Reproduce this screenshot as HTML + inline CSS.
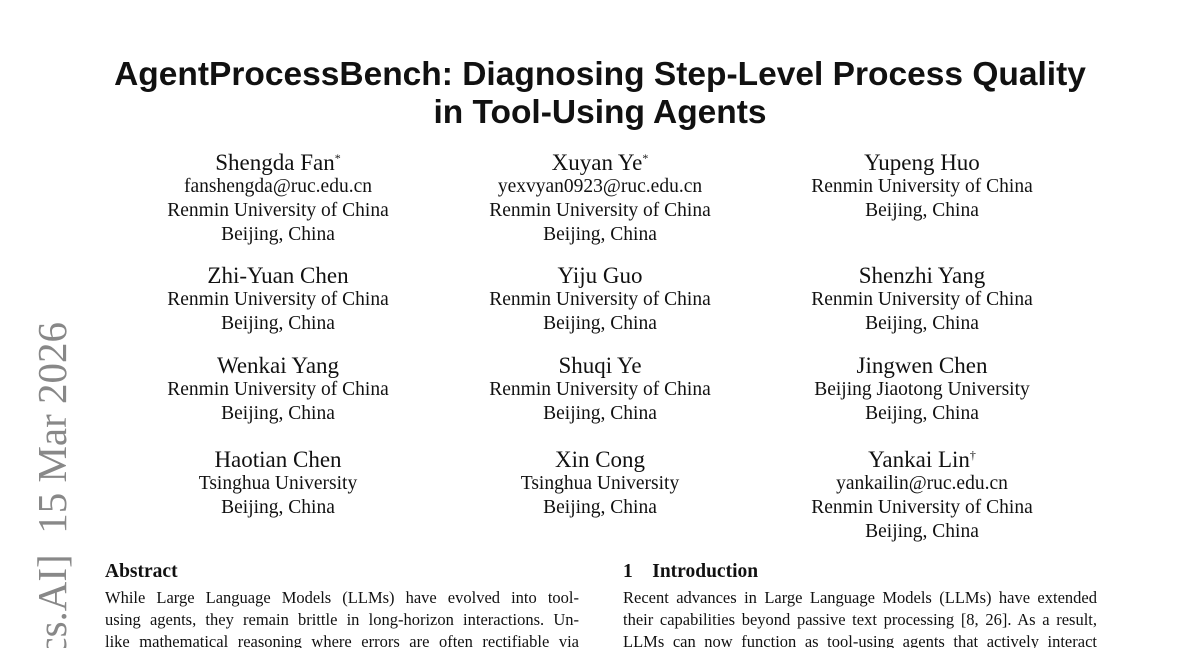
<!DOCTYPE html>
<html><head><meta charset="utf-8"><style>
html,body{margin:0;width:1200px;height:648px;overflow:hidden}
body{background:#fff;position:relative;font-family:"Liberation Serif",serif;color:#111}
.t{position:absolute;left:0;width:1200px;text-align:center;font-family:"Liberation Sans",sans-serif;font-weight:bold;font-size:33.5px;line-height:38px}
.c{position:absolute;width:340px;text-align:center}
.c div{height:24px;line-height:24px;font-size:19.5px;white-space:nowrap}
.c div.n{font-size:23px}
sup{font-size:12px;vertical-align:top;line-height:14px}
.clip{position:absolute;left:0;top:0;width:100px;height:648px;overflow:hidden}
.side{position:absolute;top:0;transform-origin:0 0;transform:rotate(-90deg);font-size:41px;color:#888;white-space:nowrap;line-height:40px}
.h{position:absolute;font-weight:bold;font-size:19.5px;line-height:22px}
.p{position:absolute;font-size:16.5px;line-height:22px;text-align:justify;text-align-last:justify;white-space:nowrap}
</style></head><body>
<div class="t" style="top:56px">AgentProcessBench: Diagnosing Step-Level Process Quality</div>
<div class="t" style="top:94px">in Tool-Using Agents</div>

<div class="c" style="left:108px;top:151px"><div class="n">Shengda Fan<sup>*</sup></div><div>fanshengda@ruc.edu.cn</div><div>Renmin University of China</div><div>Beijing, China</div></div>
<div class="c" style="left:430px;top:151px"><div class="n">Xuyan Ye<sup>*</sup></div><div>yexvyan0923@ruc.edu.cn</div><div>Renmin University of China</div><div>Beijing, China</div></div>
<div class="c" style="left:752px;top:151px"><div class="n">Yupeng Huo</div><div>Renmin University of China</div><div>Beijing, China</div></div>

<div class="c" style="left:108px;top:264px"><div class="n">Zhi-Yuan Chen</div><div>Renmin University of China</div><div>Beijing, China</div></div>
<div class="c" style="left:430px;top:264px"><div class="n">Yiju Guo</div><div>Renmin University of China</div><div>Beijing, China</div></div>
<div class="c" style="left:752px;top:264px"><div class="n">Shenzhi Yang</div><div>Renmin University of China</div><div>Beijing, China</div></div>

<div class="c" style="left:108px;top:354px"><div class="n">Wenkai Yang</div><div>Renmin University of China</div><div>Beijing, China</div></div>
<div class="c" style="left:430px;top:354px"><div class="n">Shuqi Ye</div><div>Renmin University of China</div><div>Beijing, China</div></div>
<div class="c" style="left:752px;top:354px"><div class="n">Jingwen Chen</div><div>Beijing Jiaotong University</div><div>Beijing, China</div></div>

<div class="c" style="left:108px;top:448px"><div class="n">Haotian Chen</div><div>Tsinghua University</div><div>Beijing, China</div></div>
<div class="c" style="left:430px;top:448px"><div class="n">Xin Cong</div><div>Tsinghua University</div><div>Beijing, China</div></div>
<div class="c" style="left:752px;top:448px"><div class="n">Yankai Lin<sup>†</sup></div><div>yankailin@ruc.edu.cn</div><div>Renmin University of China</div><div>Beijing, China</div></div>

<div class="clip"><div class="side" style="top:1020px;left:32px">arXiv:2603.14465v1 [cs.AI]&nbsp; 15 Mar 2026</div></div>

<div class="h" style="left:105px;top:561px">Abstract</div>
<div class="p" style="left:105px;top:587px;width:474px">While Large Language Models (LLMs) have evolved into tool-</div>
<div class="p" style="left:105px;top:609px;width:474px">using agents, they remain brittle in long-horizon interactions. Un-</div>
<div class="p" style="left:105px;top:631px;width:474px;height:17px;overflow:hidden">like mathematical reasoning where errors are often rectifiable via</div>

<div class="h" style="left:623px;top:561px">1&nbsp;&nbsp;&nbsp; Introduction</div>
<div class="p" style="left:623px;top:587px;width:474px">Recent advances in Large Language Models (LLMs) have extended</div>
<div class="p" style="left:623px;top:609px;width:474px">their capabilities beyond passive text processing [8, 26]. As a result,</div>
<div class="p" style="left:623px;top:631px;width:474px;height:17px;overflow:hidden">LLMs can now function as tool-using agents that actively interact</div>
</body></html>
